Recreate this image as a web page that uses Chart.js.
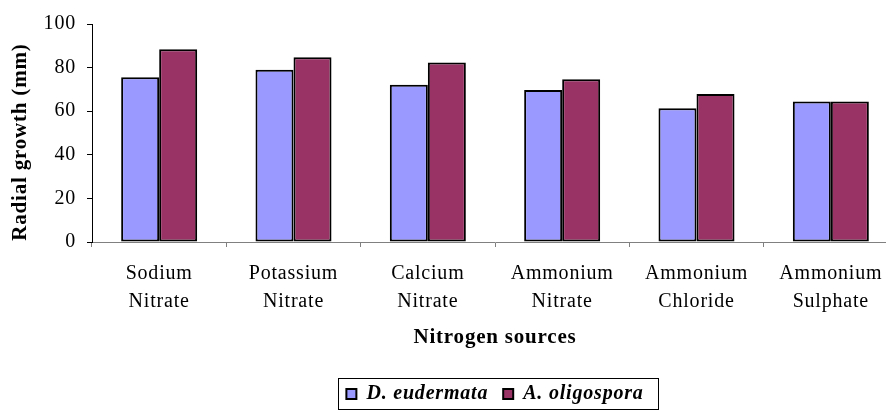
<!DOCTYPE html>
<html>
<head>
<meta charset="utf-8">
<script src="https://cdn.jsdelivr.net/npm/chart.js@4/dist/chart.umd.min.js"></script>
<style>
    html, body { margin: 0; padding: 0; background: #fff; overflow: hidden; }
    #wrap { position: relative; width: 910px; height: 411px; }
</style>
</head>
<body>
<div id="wrap"><canvas id="chart"></canvas></div>
<script>
    var categories = [
        ['Sodium', 'Nitrate'],
        ['Potassium', 'Nitrate'],
        ['Calcium', 'Nitrate'],
        ['Ammonium', 'Nitrate'],
        ['Ammonium', 'Chloride'],
        ['Ammonium', 'Sulphate']
    ];
    var seriesNames = ['D. eudermata', 'A. oligospora'];
    var eudermata = [75.6, 79.0, 72.1, 69.7, 61.3, 64.5];
    var oligospora = [88.4, 84.8, 82.3, 74.7, 67.9, 64.5];
    var yTicks = [0, 20, 40, 60, 80, 100];

    var serif = "'Liberation Serif', 'Times New Roman', serif";

    // the original's type is a bit wider, so spread the letters a little
    var spacing = {
        id: 'spacing',
        beforeLayout: function(chart) { chart.ctx.letterSpacing = '0.8px'; },
        beforeDraw: function(chart) { chart.ctx.letterSpacing = '0.8px'; }
    };

    // border round the legend, like the old spreadsheet charts
    var legendFrame = {
        id: 'legendFrame',
        afterDraw: function(chart) {
            var lg = chart.legend;
            if (!lg || !lg.legendHitBoxes.length) return;
            var boxes = lg.legendHitBoxes;
            var left = Infinity, right = -Infinity, mid = 0;
            boxes.forEach(function(b) {
                left = Math.min(left, b.left);
                right = Math.max(right, b.left + b.width);
                mid = b.top + b.height / 2;
            });
            var ctx = chart.ctx;
            ctx.save();
            ctx.strokeStyle = '#000';
            ctx.lineWidth = 1;
            ctx.strokeRect(Math.round(left - 8) + 0.5, Math.round(mid - 16) + 0.5,
                Math.round(right - left + 23), 31);
            ctx.restore();
        }
    };

    new Chart(document.getElementById('chart'), {
        type: 'bar',
        data: {
            labels: categories,
            datasets: [{
                label: seriesNames[0],
                data: eudermata,
                backgroundColor: '#9999FF',
                borderColor: '#000',
                borderWidth: 2,
                borderSkipped: false
            }, {
                label: seriesNames[1],
                data: oligospora,
                backgroundColor: '#993366',
                borderColor: '#000',
                borderWidth: 2,
                borderSkipped: false
            }]
        },
        options: {
            responsive: true,
            maintainAspectRatio: false,
            animation: false,
            layout: { padding: { top: 24, right: 12, bottom: -3, left: 0 } },
            datasets: {
                bar: { categoryPercentage: 0.566, barPercentage: 1 }
            },
            plugins: {
                tooltip: { enabled: false },
                legend: {
                    position: 'bottom',
                    fullSize: false,
                    labels: {
                        boxWidth: 10,
                        boxHeight: 10,
                        padding: 15,
                        color: '#000',
                        font: { family: serif, size: 20, style: 'italic', weight: 'bold' }
                    }
                }
            },
            scales: {
                x: {
                    grid: {
                        display: true,
                        drawOnChartArea: false,
                        tickLength: 5,
                        color: '#808080'
                    },
                    border: { color: '#808080', width: 1 },
                    ticks: {
                        color: '#000',
                        padding: 13,
                        maxRotation: 0,
                        font: { family: serif, size: 20, lineHeight: 1.4 }
                    },
                    title: {
                        display: true,
                        text: 'Nitrogen sources',
                        color: '#000',
                        padding: { top: 0, bottom: 19 },
                        font: { family: serif, size: 21, weight: 'bold', lineHeight: 1.2 }
                    },
                    afterFit: function(scale) { scale.height = 127; }
                },
                y: {
                    min: 0,
                    max: 100,
                    afterBuildTicks: function(scale) {
                        scale.ticks = yTicks.map(function(v) { return { value: v }; });
                    },
                    grid: {
                        display: true,
                        drawOnChartArea: false,
                        tickLength: 5,
                        color: '#000'
                    },
                    border: { color: '#000', width: 1 },
                    ticks: {
                        color: '#000',
                        padding: 11,
                        font: { family: serif, size: 20 }
                    },
                    title: {
                        display: true,
                        // trailing spaces nudge the title down a little, as in the original
                        text: 'Radial growth (mm)   ',
                        color: '#000',
                        padding: { top: 8, bottom: 0 },
                        font: { family: serif, size: 21, weight: 'bold', lineHeight: 1.2 }
                    },
                    afterFit: function(scale) { scale.width = 92; }
                }
            }
        },
        plugins: [spacing, legendFrame]
    });
</script>
</body>
</html>
